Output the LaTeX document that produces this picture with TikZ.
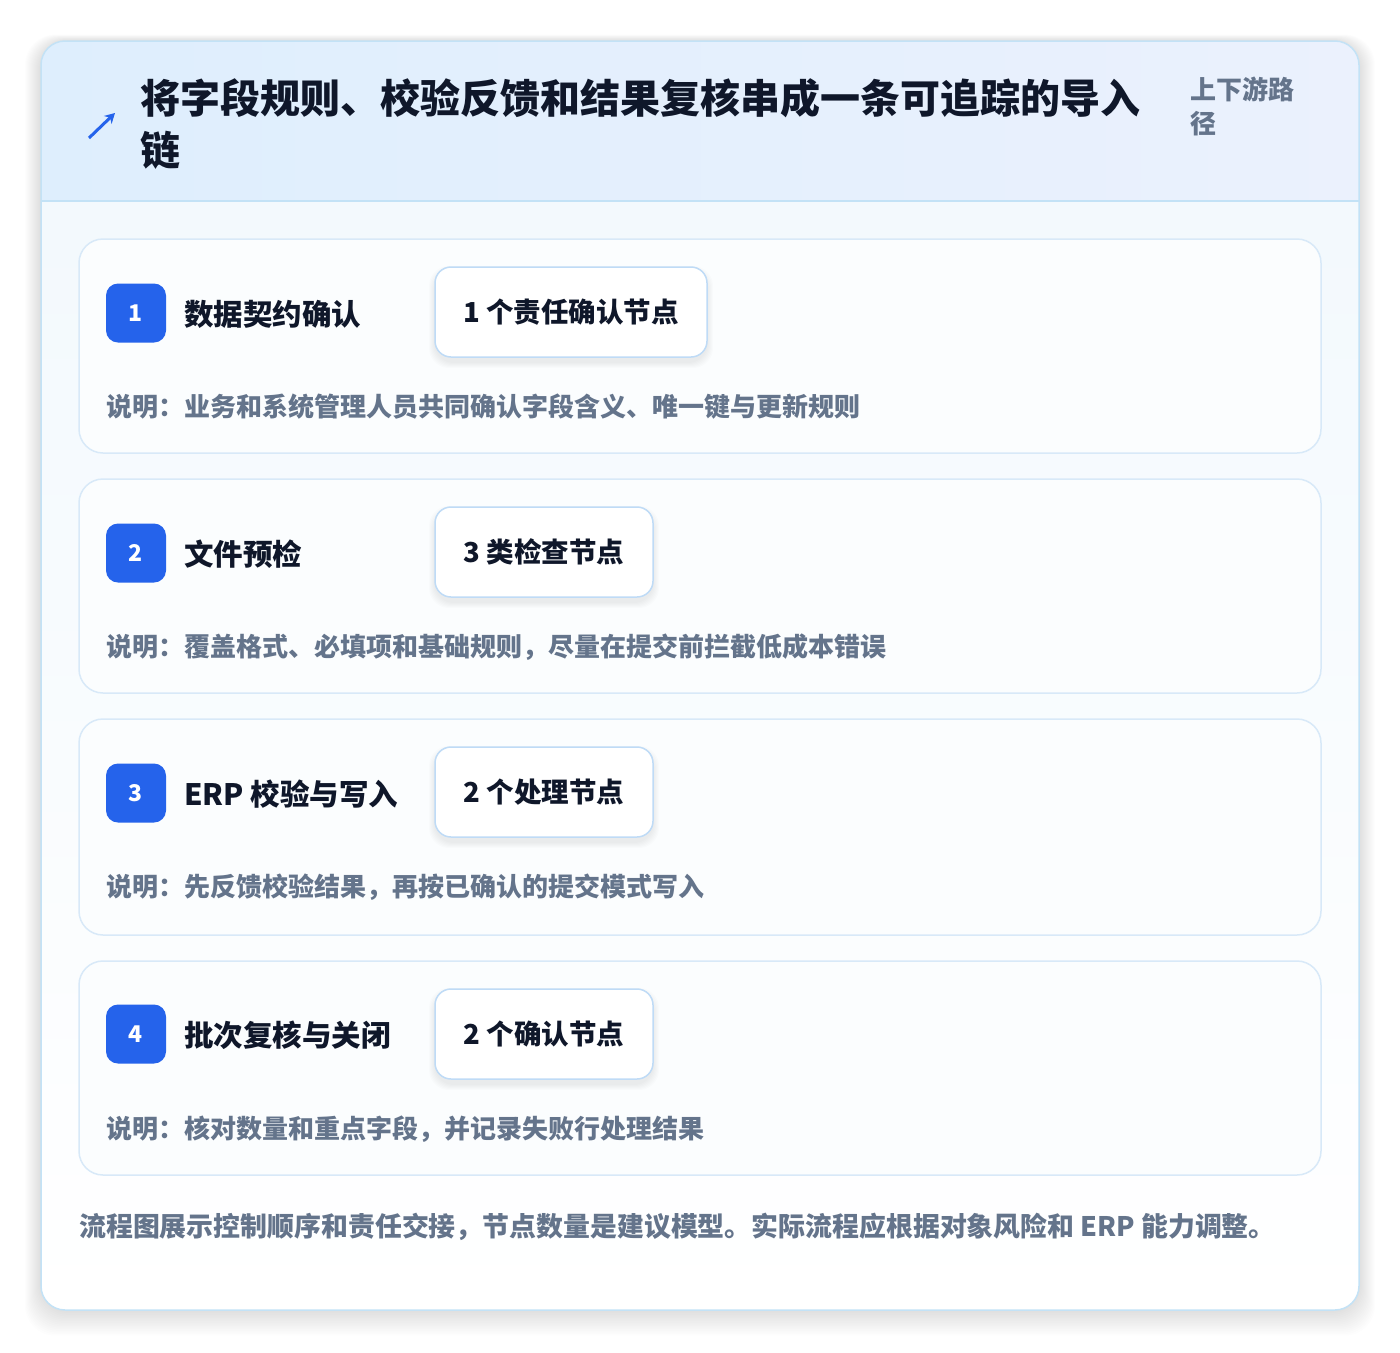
\documentclass[tikz,border=0pt]{standalone}
\usepackage{fontspec}
\setmainfont{Noto Sans CJK SC}
\usetikzlibrary{arrows.meta}
\definecolor{cardborder}{HTML}{C3E2F6}
\definecolor{headL}{HTML}{DEEEFD}
\definecolor{headR}{HTML}{EBF1FD}
\definecolor{bodytop}{HTML}{F1F8FD}
\definecolor{stepborder}{HTML}{D8E9F8}
\definecolor{stepfill}{HTML}{FBFDFE}
\definecolor{badge}{HTML}{2563EB}
\definecolor{pillborder}{HTML}{BFDBF6}
\definecolor{titlec}{HTML}{0F172A}
\definecolor{grayc}{HTML}{64748B}
\tikzset{
  stepcard/.style={draw=stepborder, line width=1.5pt, fill=stepfill, rounded corners=24pt},
  badgebox/.style={fill=badge, rounded corners=12pt, minimum width=60pt, minimum height=59pt, inner sep=0pt, text=white, font=\fontsize{23}{24}\selectfont\bfseries},
  steptitle/.style={anchor=west, inner sep=0pt, text=titlec, font=\fontsize{29.5}{32}\selectfont\bfseries},
  pill/.style={draw=pillborder, line width=1.5pt, fill=white, rounded corners=16pt, minimum height=90pt, inner sep=0pt, text=titlec, font=\fontsize{27.5}{30}\selectfont\bfseries},
  pillshadow/.style={fill=black, opacity=0.012, rounded corners=20pt},
  desc/.style={anchor=west, inner sep=0pt, text=grayc, font=\fontsize{26}{30}\selectfont\bfseries},
}
\newcommand{\pillshade}[4]{% x1 y1 x2 y2
  \foreach \k in {1,...,6}{\fill[pillshadow] (#1-\k,#2-\k+5) rectangle (#3+\k,#4+\k+5);}
}
\begin{document}
\begin{tikzpicture}[x=1pt,y=-1pt]
\useasboundingbox (0,0) rectangle (1400,1352);
\fill[white] (0,0) rectangle (1400,1352);
% shadow
\foreach \i in {1,...,16}{
  \fill[black, opacity=0.006, rounded corners=30pt] (41-\i,41-\i*0.4) rectangle (1359+\i,1310+\i*1.6);
}
% card body
\path[rounded corners=24pt, top color=bodytop, bottom color=white] (41,41) rectangle (1359,1310);
% header
\begin{scope}
  \clip[rounded corners=24pt] (41,41) rectangle (1359,1310);
  \shade[left color=headL, right color=headR] (41,41) rectangle (1359,201);
  \draw[cardborder, line width=1.2pt] (41,201) -- (1359,201);
\end{scope}
\draw[cardborder, line width=1.5pt, rounded corners=24pt] (41,41) rectangle (1359,1310);
% icon
\coordinate (ia) at (89,138);
\coordinate (ib) at (115,113);
\draw[badge, line width=3pt, -{Stealth[length=10pt,width=11pt]}] (ia) -- (ib);
% title
\node[anchor=north west, inner sep=0pt, text=titlec, align=left,
  font=\fontsize{40}{52}\selectfont\bfseries] (title) at (140,78) {将字段规则、校验反馈和结果复核串成一条可追踪的导入\\链};
\node[anchor=north west, inner sep=0pt, text=grayc, align=left,
  font=\fontsize{26}{34}\selectfont\bfseries] (sub) at (1190,77) {上下游路\\径};
% steps
\path[stepcard] (79,239) rectangle (1321,453);
\path[stepcard] (79,479) rectangle (1321,693);
\path[stepcard] (79,719) rectangle (1321,935);
\path[stepcard] (79,961) rectangle (1321,1175);

\pillshade{435}{267}{707}{357}
\pillshade{435}{507}{653}{597}
\pillshade{435}{747}{653}{837}
\pillshade{435}{989}{653}{1079}

\node[badgebox] (b1) at (136,313) {1};
\node[steptitle] (t1) at (184,314) {数据契约确认};
\node[pill, minimum width=272pt] (p1) at (571,312) {1 个责任确认节点};
\node[desc] (d1) at (106,407) {说明：业务和系统管理人员共同确认字段含义、唯一键与更新规则};

\node[badgebox] (b2) at (136,553) {2};
\node[steptitle] (t2) at (184,554) {文件预检};
\node[pill, minimum width=218pt] (p2) at (544,552) {3 类检查节点};
\node[desc] (d2) at (106,647) {说明：覆盖格式、必填项和基础规则，尽量在提交前拦截低成本错误};

\node[badgebox] (b3) at (136,793) {3};
\node[steptitle] (t3) at (184,794) {ERP 校验与写入};
\node[pill, minimum width=218pt] (p3) at (544,792) {2 个处理节点};
\node[desc] (d3) at (106,887) {说明：先反馈校验结果，再按已确认的提交模式写入};

\node[badgebox] (b4) at (136,1034) {4};
\node[steptitle] (t4) at (184,1035) {批次复核与关闭};
\node[pill, minimum width=218pt] (p4) at (544,1034) {2 个确认节点};
\node[desc] (d4) at (106,1129) {说明：核对数量和重点字段，并记录失败行处理结果};

\node[anchor=west, inner sep=0pt, text=grayc, font=\fontsize{26.9}{30}\selectfont\bfseries] (foot) at (79,1227) {流程图展示控制顺序和责任交接，节点数量是建议模型。实际流程应根据对象风险和 ERP 能力调整。};
\end{tikzpicture}
\end{document}
